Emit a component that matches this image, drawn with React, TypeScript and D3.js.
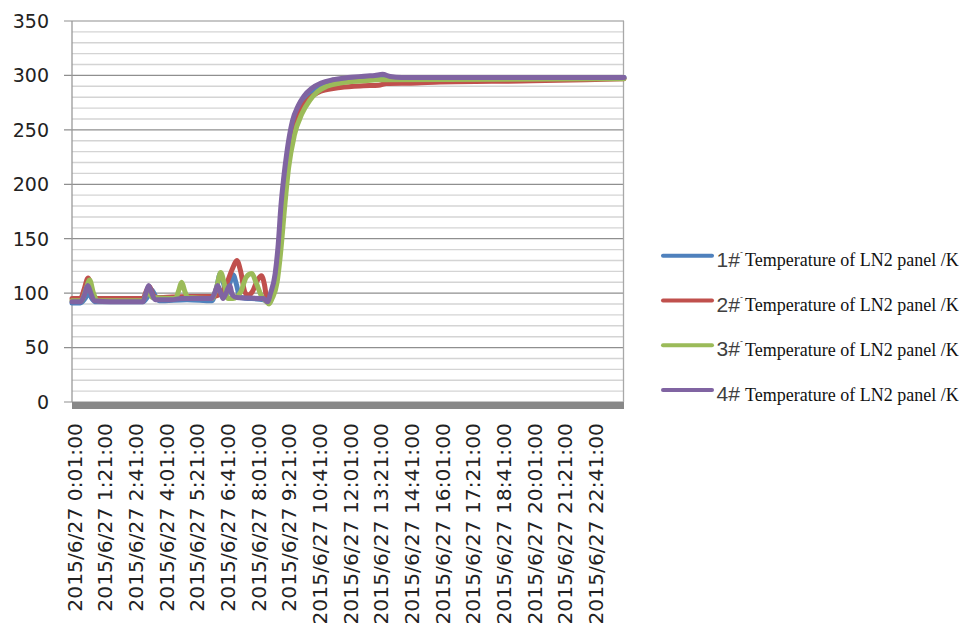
import React from "react";
import * as d3 from "d3";

// minutes after 2015/6/27 0:01:00, value in K
const series1: [number, number][] = [
  [0, 91], [22, 91], [34, 95], [43, 100], [52, 95], [62, 92], [185, 92], [198, 97], [208, 103], [218, 97],
  [228, 93], [300, 94], [365, 93], [376, 103], [387, 118], [396, 108], [403, 98], [411, 108], [420, 117],
  [429, 108], [438, 96], [500, 94], [510, 92], [520, 98], [532, 115], [542, 145], [552, 188], [562, 220],
  [578, 250], [596, 268], [615, 279], [640, 287], [670, 292], [720, 295], [780, 297], [820, 298], [1440, 298],
];
const series2: [number, number][] = [
  [0, 95], [22, 95], [32, 104], [42, 114], [52, 102], [62, 95], [185, 95], [194, 102], [202, 106], [212, 98],
  [222, 96], [300, 97], [365, 97], [380, 98], [400, 106], [418, 122], [430, 130], [440, 120], [450, 102],
  [458, 98], [470, 101], [484, 112], [494, 116], [502, 108], [508, 95], [512, 92], [522, 100], [534, 115],
  [545, 150], [555, 195], [565, 225], [580, 252], [600, 270], [620, 279], [640, 284], [665, 287], [700, 289],
  [760, 290.5], [800, 291], [820, 292.5], [900, 293], [960, 294], [1200, 295], [1340, 296], [1440, 297],
];
const series3: [number, number][] = [
  [0, 93], [24, 93], [36, 103], [46, 112], [56, 100], [66, 93], [185, 93], [197, 102], [210, 96], [270, 95],
  [278, 102], [286, 110], [294, 102], [302, 96], [365, 95], [377, 105], [388, 119], [397, 109], [407, 95],
  [420, 95], [440, 101], [455, 115], [469, 118], [481, 109], [495, 97], [508, 92], [514, 90], [522, 95],
  [535, 110], [545, 140], [555, 180], [565, 215], [580, 245], [600, 265], [620, 277], [640, 285], [665, 290],
  [700, 293], [760, 295], [800, 296], [1440, 297],
];
const series4: [number, number][] = [
  [0, 92], [22, 92], [33, 99], [41, 107], [49, 100], [58, 93], [100, 92], [185, 92], [192, 99], [200, 107],
  [208, 100], [217, 94], [260, 94], [285, 95], [300, 95], [364, 95], [372, 100], [380, 107], [388, 100],
  [394, 95], [402, 100], [411, 107], [419, 98], [430, 96], [500, 95], [510, 92], [518, 100], [530, 118],
  [538, 145], [545, 180], [552, 205], [560, 228], [575, 258], [590, 272], [605, 281], [625, 288], [650, 293],
  [680, 296], [720, 298], [770, 299.5], [790, 300], [810, 301], [830, 299], [860, 298], [1440, 298],
];

const seriesNames = ["1#", "2#", "3#", "4#"];
const seriesColors = ["#4f81bd", "#c0504d", "#9bbb59", "#8064a2"];
const legendText = "Temperature of LN2 panel /K";

const xLabels = [
  "2015/6/27 0:01:00", "2015/6/27 1:21:00", "2015/6/27 2:41:00", "2015/6/27 4:01:00",
  "2015/6/27 5:21:00", "2015/6/27 6:41:00", "2015/6/27 8:01:00", "2015/6/27 9:21:00",
  "2015/6/27 10:41:00", "2015/6/27 12:01:00", "2015/6/27 13:21:00", "2015/6/27 14:41:00",
  "2015/6/27 16:01:00", "2015/6/27 17:21:00", "2015/6/27 18:41:00", "2015/6/27 20:01:00",
  "2015/6/27 21:21:00", "2015/6/27 22:41:00",
];
const labelStep = 80; // minutes between labels

const allSeries = [series1, series2, series3, series4];

export default function App() {
  const x = d3.scaleLinear().domain([0, 1440]).range([72, 624]);
  const y = d3.scaleLinear().domain([0, 350]).range([402, 21]);

  const line = d3
    .line<[number, number]>()
    .x((d) => x(d[0]))
    .y((d) => y(d[1]))
    .curve(d3.curveMonotoneX);

  const minor = d3.range(0, 351, 10).filter((v) => v % 50 !== 0);
  const major = y.ticks(7);

  return (
    <svg width={961} height={625} style={{ position: "absolute", left: 0, top: 0, background: "#fff" }}>
      {/* grid */}
      {minor.map((v) => (
        <line key={"n" + v} x1={72} x2={624} y1={y(v)} y2={y(v)} stroke="#d4d4d4" strokeWidth={1.4} />
      ))}
      {major.map((v) => (
        <line key={"m" + v} x1={64} x2={624} y1={y(v)} y2={y(v)} stroke="#8f8f8f" strokeWidth={1.2} />
      ))}
      <line x1={72} x2={72} y1={21} y2={402} stroke="#9a9a9a" strokeWidth={1.3} />
      <line x1={623.5} x2={623.5} y1={21} y2={402} stroke="#a8a8a8" strokeWidth={1.3} />
      {major.map((v) => (
        <text
          key={"t" + v}
          x={49}
          y={y(v)}
          dy="0.36em"
          textAnchor="end"
          fontFamily="DejaVu Sans"
          fontSize={19}
          fill="#222"
        >
          {v}
        </text>
      ))}

      {/* bottom axis band */}
      <rect x={72} y={402} width={552} height={7} fill="#888" />

      {/* series */}
      {allSeries.map((s, i) => (
        <path
          key={"s" + i}
          d={line(s) || ""}
          fill="none"
          stroke={seriesColors[i]}
          strokeWidth={5}
          strokeLinejoin="round"
          strokeLinecap="round"
        />
      ))}

      {/* x labels */}
      {xLabels.map((lab, i) => (
        <text
          key={"x" + i}
          transform={`translate(${x(i * labelStep) + 9.5},423) rotate(-90)`}
          textAnchor="end"
          fontFamily="DejaVu Sans"
          fontSize={20.3}
          fill="#222"
        >
          {lab}
        </text>
      ))}

      {/* legend */}
      {seriesNames.map((n, i) => {
        const ly = 255.7 + i * 44.8;
        return (
          <g key={"l" + i}>
            <line x1={663} x2={712} y1={ly} y2={ly} stroke={seriesColors[i]} strokeWidth={4} strokeLinecap="round" />
            <text x={716.5} y={ly + 11} fontFamily="Liberation Sans" fontSize={21} fill="#404040">
              {n}
            </text>
            {i < 3 && (
              <text x={740} y={ly - 1} fontFamily="Liberation Sans" fontSize={9} fill="#404040">
                -
              </text>
            )}
            <text x={745} y={ly + 10.5} fontFamily="Liberation Serif" fontSize={18} fill="#111">
              {legendText}
            </text>
          </g>
        );
      })}
    </svg>
  );
}
